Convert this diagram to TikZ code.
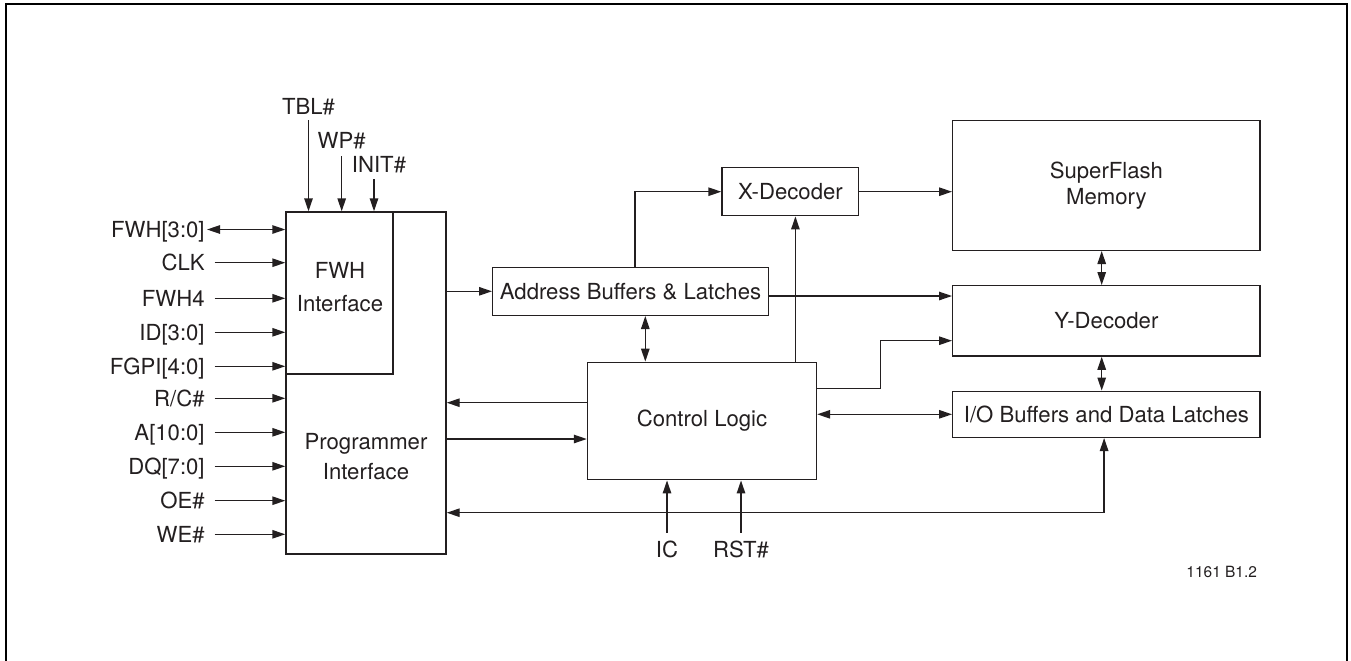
\documentclass[tikz,border=0pt]{standalone}
\usepackage{fontspec}
\setmainfont{TeX Gyre Heros}
\usetikzlibrary{arrows.meta}
\definecolor{ink}{HTML}{231F20}
\newcommand{\px}{0.02cm}
\tikzset{
    box/.style={draw=ink, line width=0.8pt, inner sep=0pt, align=center, text=ink},
    lbl/.style={inner sep=0pt, text height=9pt, text depth=0pt, text=ink},
    sig/.style={draw=ink, line width=0.8pt, -{Triangle[length=7.4pt,width=4.8pt]}},
    bidir/.style={draw=ink, line width=0.8pt, {Triangle[length=7.4pt,width=4.8pt]}-{Triangle[length=7.4pt,width=4.8pt]}},
}
\begin{document}
\begin{tikzpicture}[x=\px, y=-\px, font=\fontsize{12.6}{15}\selectfont]

    \useasboundingbox (0,0) rectangle (1351,660);

    %Rahmen
    \draw[line width=1.15pt, black](6,670)--(6,4)--(1347,4)--(1347,670);

    %Programmer / FWH Interface
    \node[box, minimum width=160*\px, minimum height=342*\px] (prog) at (366,383) {};
    \node[box, minimum width=107*\px, minimum height=162*\px] (fwh) at (339.5,293) {};
    \node[align=center, text=ink] (fwhtxt) at (340,287) {FWH\\[3.7pt]Interface};
    \node[align=center, text=ink] (progtxt) at (366,457) {Programmer\\[2pt]Interface};

    %Blöcke
    \node[box, minimum width=275.6*\px, minimum height=48*\px] (addr) at (630.5,291.3) {Address Buffers \& Latches};
    \node[box, minimum width=136.7*\px, minimum height=48*\px] (xdec) at (790.4,191.7) {X-Decoder};
    \node[box, minimum width=229*\px, minimum height=117.4*\px] (ctrl) at (702,421) {Control Logic};
    \node[box, minimum width=307.3*\px, minimum height=129.6*\px] (flash) at (1106.4,185.5) {SuperFlash\\Memory};
    \node[box, minimum width=307.3*\px, minimum height=70.3*\px] (ydec) at (1106.4,320.9) {Y-Decoder};
    \node[box, minimum width=307.3*\px, minimum height=46*\px] (io) at (1106.4,414.3) {I/O Buffers and Data Latches};

    %Eingänge oben
    \node[lbl] (tbl) at (308.5,106.7) {TBL\#};
    \node[lbl] (wp) at (341.7,141) {WP\#};
    \node[lbl] (init) at (379,164.3) {INIT\#};
    \draw[sig]([yshift=-5.4*\px]tbl.south)--(tbl.south |- fwh.north);
    \draw[sig]([yshift=-7*\px]wp.south)--(wp.south |- fwh.north);
    \draw[sig]([xshift=-5*\px, yshift=-6.5*\px]init.south)--([xshift=-5*\px]init.south |- fwh.north);

    %Eingänge links
    \node[lbl, anchor=east] (fwhio) at (205,229.5) {FWH[3:0]};
    \node[lbl, anchor=east] (clk) at (205,262.7) {CLK};
    \node[lbl, anchor=east] (fwhfour) at (205,298.3) {FWH4};
    \node[lbl, anchor=east] (id) at (205,332.3) {ID[3:0]};
    \node[lbl, anchor=east] (fgpi) at (205,366.3) {FGPI[4:0]};
    \node[lbl, anchor=east] (rc) at (205,398.3) {R/C\#};
    \node[lbl, anchor=east] (ain) at (205,432.3) {A[10:0]};
    \node[lbl, anchor=east] (dq) at (205,466.3) {DQ[7:0]};
    \node[lbl, anchor=east] (oe) at (205,500.7) {OE\#};
    \node[lbl, anchor=east] (we) at (205,534.3) {WE\#};

    \draw[bidir]([xshift=2*\px]fwhio.east)--(fwhio.east -| prog.west);
    \draw[sig]([xshift=9.5*\px]clk.east)--(clk.east -| prog.west);
    \draw[sig]([xshift=9.5*\px]fwhfour.east)--(fwhfour.east -| prog.west);
    \draw[sig]([xshift=9.5*\px]id.east)--(id.east -| prog.west);
    \draw[sig]([xshift=9.5*\px]fgpi.east)--(fgpi.east -| prog.west);
    \draw[sig]([xshift=9.5*\px]rc.east)--(rc.east -| prog.west);
    \draw[sig]([xshift=9.5*\px]ain.east)--(ain.east -| prog.west);
    \draw[sig]([xshift=9.5*\px]dq.east)--(dq.east -| prog.west);
    \draw[sig]([xshift=9.5*\px]oe.east)--(oe.east -| prog.west);
    \draw[sig]([xshift=9.5*\px]we.east)--(we.east -| prog.west);

    %Adresspfad
    \draw[sig](prog.east |- addr.west)--(addr.west);
    \draw[sig]([xshift=4.5*\px]addr.north) |- (xdec.west);
    \draw[bidir]([xshift=14.8*\px]addr.south)--([xshift=14.8*\px]addr.south |- ctrl.north);
    \draw[sig]([xshift=5*\px]xdec.south |- ctrl.north)--([xshift=5*\px]xdec.south);
    \draw[sig](xdec.east)--(xdec.east -| flash.west);
    \draw[sig]([yshift=-4.7*\px]addr.east)--([yshift=-4.7*\px]addr.east -| ydec.west);

    %Speicherpfad
    \draw[bidir]([xshift=-4.7*\px]flash.south)--([xshift=-4.7*\px]ydec.north);
    \draw[bidir]([xshift=-4.7*\px]ydec.south)--([xshift=-4.7*\px]io.north);

    %Control Logic
    \draw[sig]([yshift=32.7*\px]ctrl.east)-- ++(63.5,0) |- ([yshift=-19.8*\px]ydec.west);
    \draw[bidir](ctrl.east |- io.west)--(io.west);
    \draw[sig]([yshift=18.3*\px]ctrl.west)--([yshift=18.3*\px]ctrl.west -| prog.east);
    \draw[sig]([yshift=-18*\px]ctrl.west -| prog.east)--([yshift=-18*\px]ctrl.west);
    \draw[bidir]([xshift=-2.3*\px]io.south) |- ([yshift=-32.3*\px]ctrl.south -| prog.east);

    %Eingänge unten
    \node[lbl] (ic) at (667,550) {IC};
    \node[lbl] (rst) at (741,550) {RST\#};
    \draw[sig]([yshift=8.8*\px]ic.north)--(ic.north |- ctrl.south);
    \draw[sig]([yshift=8.8*\px]rst.north)--(rst.north |- ctrl.south);

    %Kennung
    \node[text=ink, inner sep=0pt, font=\fontsize{8.8}{10}\selectfont] (figid) at (1221.7,571.7) {1161 B1.2};

\end{tikzpicture}
\end{document}
